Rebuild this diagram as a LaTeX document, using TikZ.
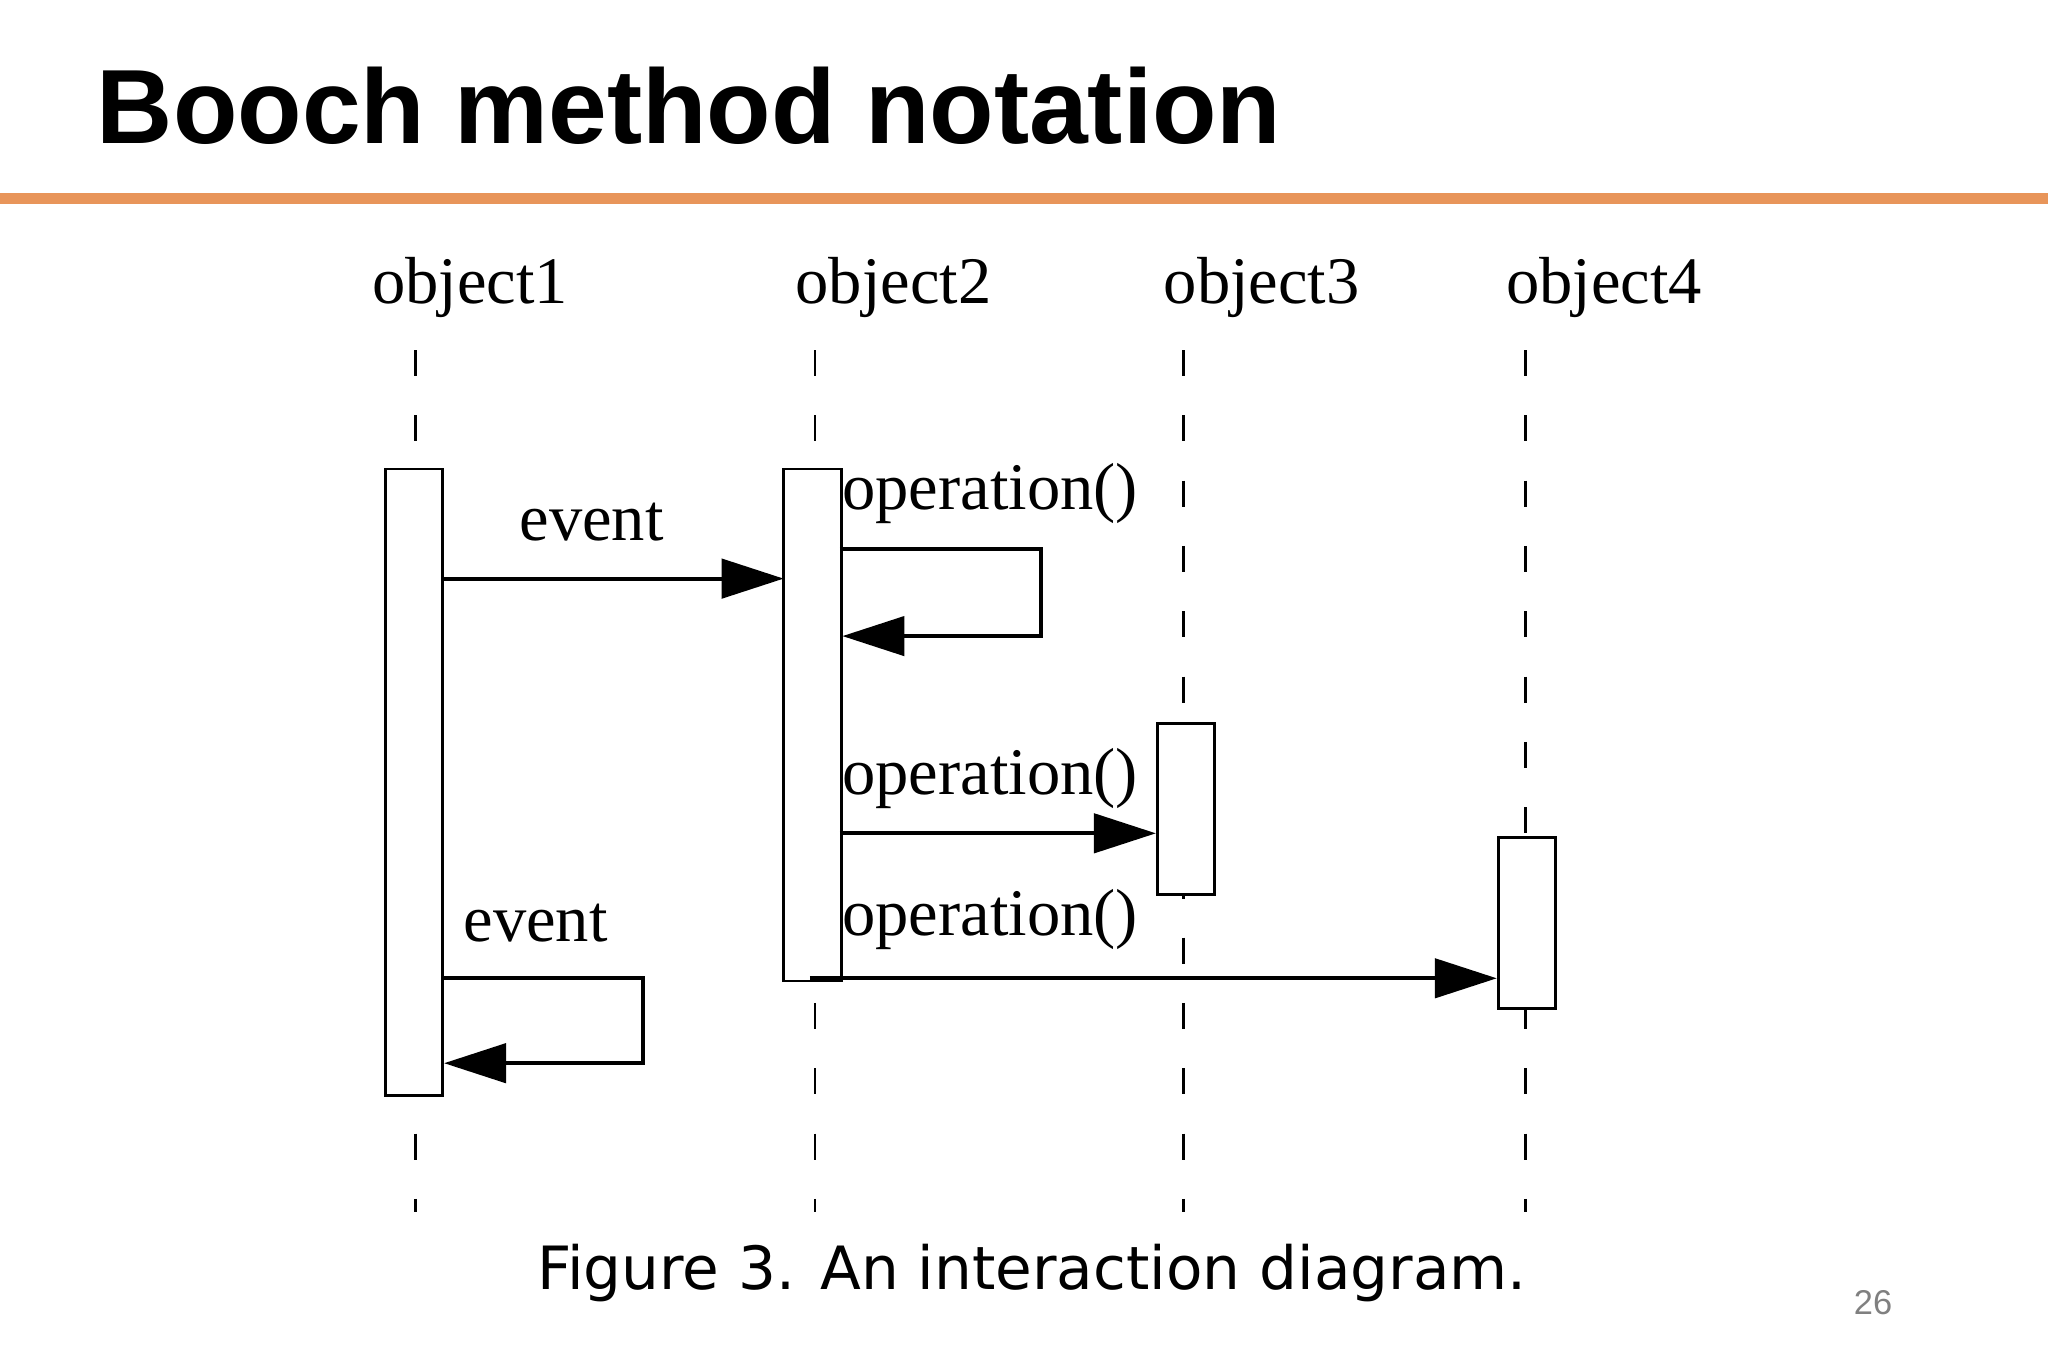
\documentclass[tikz,border=0pt]{standalone}
\usepackage{fontspec}
\setmainfont{Liberation Serif}
\newfontfamily\titlef{Liberation Sans}
\newfontfamily\capf{DejaVu Sans}
\usetikzlibrary{arrows.meta}
\begin{document}
\begin{tikzpicture}[x=0.02cm,y=-0.02cm,
  life/.style={line width=1.2pt,dash pattern=on 0.4cm off 0.6cm},
  act/.style={draw,line width=1.2pt,fill=white,inner sep=0pt,minimum width=0.88cm},
  msg/.style={line width=1.8pt,-{Triangle[length=0.95cm,width=0.6cm]}},
  lab/.style={font=\fontsize{29}{34}\selectfont}]
\useasboundingbox (0,0) rectangle (1568,1045);
\node[anchor=base west,font=\titlef\bfseries\fontsize{46}{54}\selectfont] (title) at (68,110) {Booch method notation};
\draw[line width=5pt,color={rgb,255:red,232;green,149;blue,90}] (0,152) -- (1568,152);
\node[lab] (o1) at (360,220) {object1};
\node[lab] (o2) at (684,220) {object2};
\node[lab] (o3) at (966,220) {object3};
\node[lab] (o4) at (1228,220) {object4};
\coordinate (t1) at (318,268); \coordinate (b1) at (318,928);
\coordinate (t2) at (624,268); \coordinate (b2) at (624,928);
\coordinate (t3) at (906,268); \coordinate (b3) at (906,928);
\coordinate (t4) at (1168,268); \coordinate (b4) at (1168,928);
\foreach \i in {1,2,3,4} \draw[life] (t\i) -- (b\i);
\node[act,minimum height=9.6cm,anchor=north] (a1) at (317,358) {};
\node[act,minimum height=7.84cm,anchor=north] (a2) at (622,358) {};
\node[act,minimum height=2.62cm,anchor=north] (a3) at (908,553) {};
\node[act,minimum height=2.62cm,anchor=north] (a4) at (1169,640) {};
% event
\coordinate (e1) at (339,443); \coordinate (e2) at (600,443);
\draw[msg] (e1) -- (e2);
\node[lab] (l1) at (453,400) {event};
% self loop obj2
\coordinate (s1) at (643,420); \coordinate (s2) at (797,420);
\coordinate (s3) at (797,487); \coordinate (s4) at (645,487);
\draw[msg] (s1) -- (s2) -- (s3) -- (s4);
\node[lab] (l2) at (758,378) {operation()};
% to obj3
\coordinate (p1) at (643,638); \coordinate (p2) at (885,638);
\draw[msg] (p1) -- (p2);
\node[lab] (l3) at (758,596) {operation()};
% to obj4
\coordinate (q1) at (620,749); \coordinate (q2) at (1146,749);
\draw[msg] (q1) -- (q2);
\node[lab] (l4) at (758,704) {operation()};
% self loop obj1
\coordinate (r1) at (338,749); \coordinate (r2) at (492,749);
\coordinate (r3) at (492,814); \coordinate (r4) at (340,814);
\draw[msg] (r1) -- (r2) -- (r3) -- (r4);
\node[lab] (l5) at (410,707) {event};
\node[font=\capf\fontsize{26}{30}\selectfont] (cap) at (790,975) {Figure 3. An interaction diagram.};
\node[font=\titlef\fontsize{15}{18}\selectfont,text=gray] (pg) at (1434,997) {26};
\end{tikzpicture}
\end{document}
